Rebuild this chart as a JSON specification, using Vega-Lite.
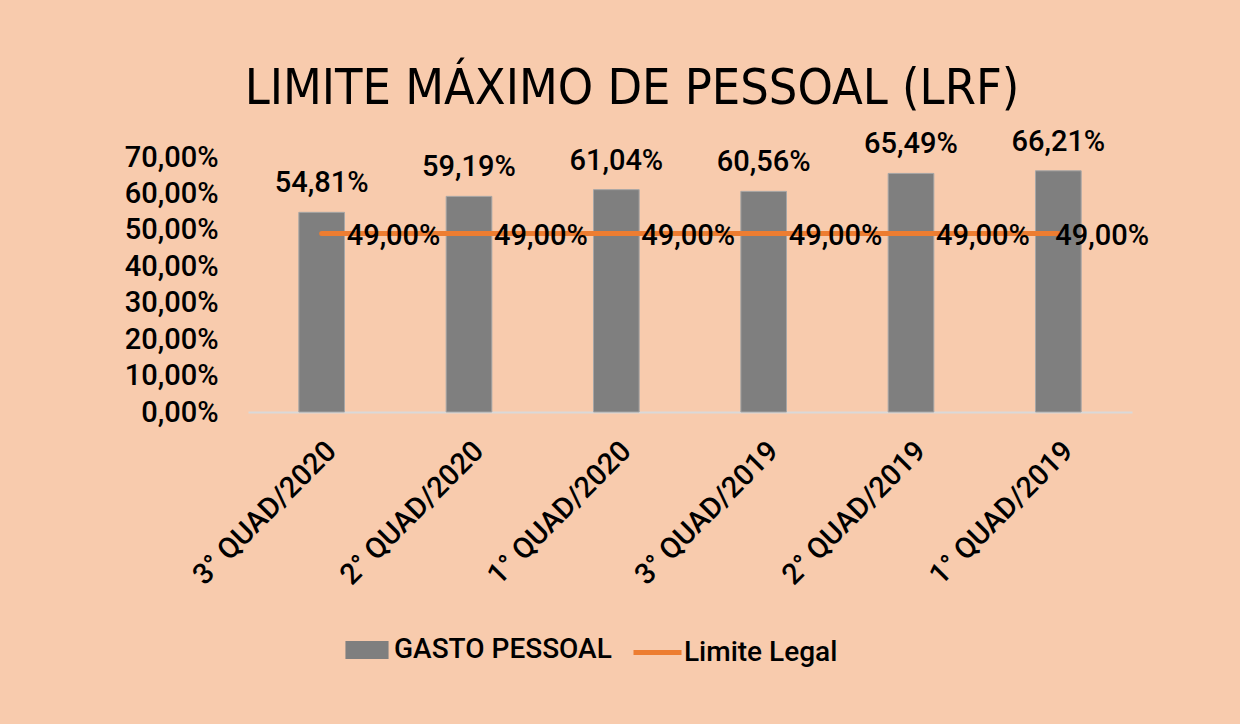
{
  "$schema": "https://vega.github.io/schema/vega-lite/v6.json",
  "width": 884,
  "height": 255,
  "autosize": {"type": "none"},
  "padding": {"left": 248, "top": 157, "right": 108, "bottom": 312},
  "background": "#F8CBAD",
  "config": {
    "locale": {"number": {"decimal": ",", "thousands": ".", "grouping": [3], "currency": ["R$", ""]}},
    "font": "Roboto",
    "view": {"stroke": null},
    "text": {"color": "#000000"},
    "legend": {"padding": 0}
  },
  "title": {
    "text": "LIMITE MÁXIMO DE PESSOAL (LRF)",
    "font": "DejaVu Sans Condensed",
    "fontSize": 50,
    "fontWeight": "normal",
    "color": "#000000",
    "anchor": "middle",
    "dx": -58,
    "offset": -26,
    "baseline": "alphabetic"
  },
  "data": {
    "values": [
      {"periodo": "3° QUAD/2020", "serie": "GASTO PESSOAL", "valor": 0.5481},
      {"periodo": "2° QUAD/2020", "serie": "GASTO PESSOAL", "valor": 0.5919},
      {"periodo": "1° QUAD/2020", "serie": "GASTO PESSOAL", "valor": 0.6104},
      {"periodo": "3° QUAD/2019", "serie": "GASTO PESSOAL", "valor": 0.6056},
      {"periodo": "2° QUAD/2019", "serie": "GASTO PESSOAL", "valor": 0.6549},
      {"periodo": "1° QUAD/2019", "serie": "GASTO PESSOAL", "valor": 0.6621},
      {"periodo": "3° QUAD/2020", "serie": "Limite Legal", "valor": 0.49},
      {"periodo": "2° QUAD/2020", "serie": "Limite Legal", "valor": 0.49},
      {"periodo": "1° QUAD/2020", "serie": "Limite Legal", "valor": 0.49},
      {"periodo": "3° QUAD/2019", "serie": "Limite Legal", "valor": 0.49},
      {"periodo": "2° QUAD/2019", "serie": "Limite Legal", "valor": 0.49},
      {"periodo": "1° QUAD/2019", "serie": "Limite Legal", "valor": 0.49}
    ]
  },
  "encoding": {
    "x": {
      "field": "periodo",
      "type": "nominal",
      "sort": ["3° QUAD/2020", "2° QUAD/2020", "1° QUAD/2020", "3° QUAD/2019", "2° QUAD/2019", "1° QUAD/2019"],
      "scale": {"paddingInner": 0.69, "paddingOuter": 0.345},
      "axis": {
        "title": null,
        "labelAngle": -45,
        "labelAlign": "right",
        "labelBaseline": "top",
        "labelFontSize": 29,
        "labelFontWeight": 500,
        "labelColor": "#000000",
        "labelPadding": 24,
        "labelLimit": 0,
        "ticks": false,
        "domainColor": "#D9D9D9",
        "domainWidth": 2
      }
    },
    "y": {
      "field": "valor",
      "type": "quantitative",
      "scale": {"domain": [0, 0.7], "nice": false},
      "axis": {
        "title": null,
        "values": [0, 0.1, 0.2, 0.3, 0.4, 0.5, 0.6, 0.7],
        "format": ".2%",
        "labelFontSize": 29,
        "labelFontWeight": 500,
        "labelColor": "#000000",
        "labelPadding": 30,
        "grid": false,
        "ticks": false,
        "domain": false
      }
    }
  },
  "layer": [
    {
      "transform": [{"filter": "datum.serie == 'GASTO PESSOAL'"}],
      "mark": {"type": "bar", "stroke": "#A6A6A6", "strokeWidth": 1},
      "encoding": {
        "fill": {
          "field": "serie",
          "type": "nominal",
          "scale": {"domain": ["GASTO PESSOAL"], "range": ["#7F7F7F"]},
          "legend": {
            "title": null,
            "orient": "none",
            "legendX": 102,
            "legendY": 476,
            "direction": "horizontal",
            "labelFontSize": 28,
            "labelFontWeight": 500,
            "labelColor": "#000000",
            "labelLimit": 0,
            "labelOffset": 10,
            "symbolType": "M-1.3,-0.55H1.3V0.55H-1.3Z",
            "symbolSize": 1100,
            "symbolFillColor": "#7F7F7F",
            "symbolStrokeWidth": 0,
            "symbolOpacity": 1
          }
        }
      }
    },
    {
      "transform": [{"filter": "datum.serie == 'GASTO PESSOAL'"}],
      "mark": {"type": "text", "baseline": "bottom", "dy": -14, "fontSize": 29, "fontWeight": 500, "color": "#000000"},
      "encoding": {"text": {"field": "valor", "type": "quantitative", "format": ".2%"}}
    },
    {
      "transform": [{"filter": "datum.serie == 'Limite Legal'"}],
      "mark": {"type": "line", "strokeWidth": 5, "strokeCap": "round"},
      "encoding": {
        "stroke": {
          "field": "serie",
          "type": "nominal",
          "scale": {"domain": ["Limite Legal"], "range": ["#ED7D31"]},
          "legend": {
            "title": null,
            "orient": "none",
            "legendX": 383,
            "legendY": 469,
            "direction": "horizontal",
            "labelFontSize": 28,
            "labelFontWeight": 500,
            "labelColor": "#000000",
            "labelLimit": 0,
            "labelOffset": 0,
            "symbolType": "stroke",
            "symbolSize": 2304,
            "symbolStrokeWidth": 5,
            "symbolStrokeColor": "#ED7D31",
            "symbolOpacity": 1
          }
        }
      }
    },
    {
      "transform": [{"filter": "datum.serie == 'Limite Legal' && datum.periodo != '1° QUAD/2019'"}],
      "mark": {"type": "text", "align": "left", "baseline": "middle", "dx": 25, "dy": 2, "fontSize": 29, "fontWeight": 500, "color": "#000000"},
      "encoding": {"text": {"field": "valor", "type": "quantitative", "format": ".2%"}}
    },
    {
      "transform": [{"filter": "datum.serie == 'Limite Legal' && datum.periodo == '1° QUAD/2019'"}],
      "mark": {"type": "text", "align": "left", "baseline": "middle", "dx": -3, "dy": 2, "fontSize": 29, "fontWeight": 500, "color": "#000000"},
      "encoding": {"text": {"field": "valor", "type": "quantitative", "format": ".2%"}}
    }
  ]
}
